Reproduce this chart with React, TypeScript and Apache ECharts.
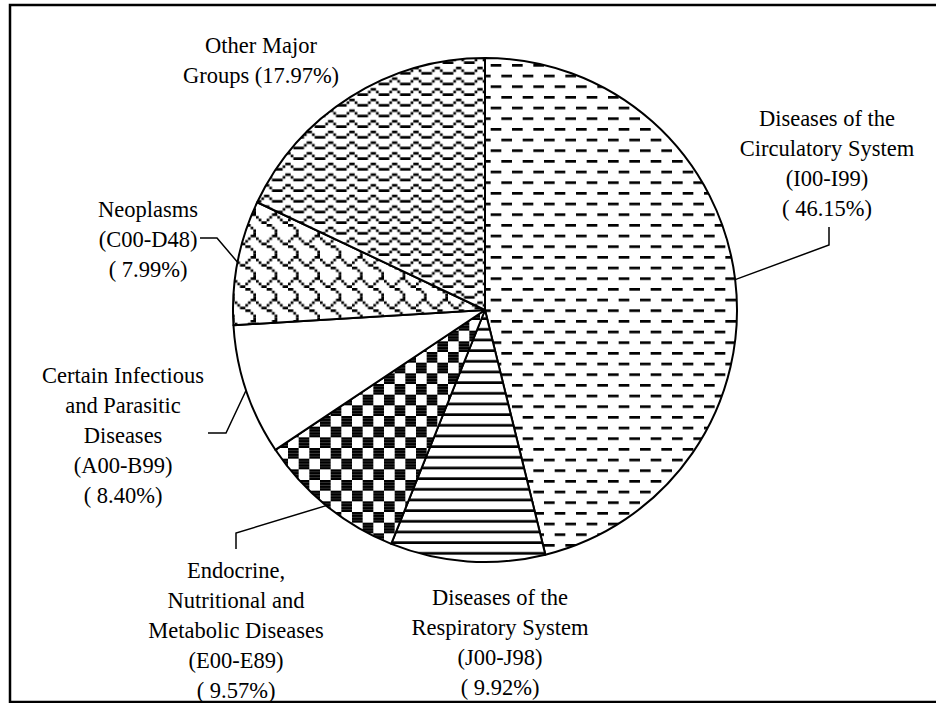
import React, { useEffect, useRef } from 'react';
import * as echarts from 'echarts';

// ---- data ----
const categories = [
  'Diseases of the Circulatory System',
  'Diseases of the Respiratory System',
  'Endocrine, Nutritional and Metabolic Diseases',
  'Certain Infectious and Parasitic Diseases',
  'Neoplasms',
  'Other Major Groups',
];
const shares = [46.15, 9.92, 9.57, 8.4, 7.99, 17.97];
// label text lines (percentage appended from shares)
const labelNameLines = [
  ['Diseases of the', 'Circulatory System', '(I00-I99)'],
  ['Diseases of the', 'Respiratory System', '(J00-J98)'],
  ['Endocrine,', 'Nutritional and', 'Metabolic Diseases', '(E00-E89)'],
  ['Certain Infectious', 'and Parasitic', 'Diseases', '(A00-B99)'],
  ['Neoplasms', '(C00-D48)'],
  ['Other Major', 'Groups'],
];
// 8x8 hatch bitmaps (Office style patterns)
const hatchDashedHorizontal = [0xf0, 0x00, 0x00, 0x00, 0x0f, 0x00, 0x00, 0x00];
const hatchLightHorizontal = [0x00, 0x00, 0x00, 0xff, 0x00, 0x00, 0x00, 0xff];
const hatchLargeChecker = [0x0f, 0x0f, 0x0f, 0x0f, 0xf0, 0xf0, 0xf0, 0xf0];
const hatchShingle = [0x03, 0x84, 0x48, 0x30, 0x0c, 0x02, 0x01, 0x01];
const hatchWave = [0x00, 0x18, 0x24, 0xc3, 0x00, 0x18, 0x24, 0xc3];

// ---- layout ----
const CX = 485;
const CY = 310;
const R = 252;
const FONT = 'Liberation Serif, Times New Roman, serif';

type LabelPos = { x: number; y: number; va: 'top' | 'middle' | 'bottom'; line?: number[][] };
const labelPos: LabelPos[] = [
  { x: 827, y: 223, va: 'bottom', line: [[829, 245], [829, 227]] },
  { x: 500, y: 582, va: 'top' },
  { x: 236, y: 555, va: 'top', line: [[236, 533], [236, 549]] },
  { x: 123, y: 435, va: 'middle', line: [[226, 433], [208, 433]] },
  { x: 148, y: 239, va: 'middle', line: [[217, 238], [200, 238]] },
  { x: 261, y: 60, va: 'middle' },
];

function hatch(rows: number[]) {
  const b = 8 / 3;
  const size = 8 * b;
  let rects = '';
  rows.forEach((r, y) => {
    let x = 0;
    while (x < 8) {
      if (r & (0x80 >> x)) {
        let e = x;
        while (e < 8 && r & (0x80 >> e)) e++;
        rects += `<rect x="${(x * b).toFixed(3)}" y="${(y * b).toFixed(3)}" width="${((e - x) * b).toFixed(3)}" height="${b.toFixed(3)}"/>`;
        x = e;
      } else x++;
    }
  });
  const svg = `<svg xmlns="http://www.w3.org/2000/svg" width="${size}" height="${size}" viewBox="0 0 ${size} ${size}"><rect width="${size}" height="${size}" fill="#fff"/><g fill="#000">${rects}</g></svg>`;
  return {
    image: 'data:image/svg+xml;charset=utf-8,' + encodeURIComponent(svg),
    repeat: 'repeat',
    imageWidth: size,
    imageHeight: size,
  };
}

export default function App() {
  const ref = useRef<HTMLDivElement>(null);
  useEffect(() => {
    if (!ref.current) return;
    const chart = echarts.init(ref.current, null, { renderer: 'svg' });
    const fills: any[] = [
      hatch(hatchDashedHorizontal),
      hatch(hatchLightHorizontal),
      hatch(hatchLargeChecker),
      '#ffffff',
      hatch(hatchShingle),
      hatch(hatchWave),
    ];
    const total = shares.reduce((a, b) => a + b, 0);
    const startPoint = (i: number) => {
      let cum = 0;
      for (let k = 0; k < i; k++) cum += shares[k];
      const a = ((cum + shares[i] / 2) / total) * Math.PI * 2;
      return [CX + R * Math.sin(a), CY - R * Math.cos(a)];
    };
    const labelText = (i: number) => {
      const lines = labelNameLines[i].slice();
      const pct = shares[i].toFixed(2) + '%';
      if (i === 5) lines[lines.length - 1] += ` (${pct})`;
      else lines.push(`( ${pct})`);
      return lines.join('\n');
    };
    chart.setOption({
      animation: false,
      backgroundColor: '#ffffff',
      graphic: [
        {
          type: 'rect',
          shape: { x: 10, y: 5, width: 940, height: 697 },
          style: { fill: 'none', stroke: '#000', lineWidth: 2.5 },
          silent: true,
          z: 100,
        },
      ],
      series: [
        {
          type: 'pie',
          center: [CX, CY],
          radius: R,
          startAngle: 90,
          clockwise: true,
          avoidLabelOverlap: false,
          emphasis: { disabled: true },
          itemStyle: { borderColor: '#000', borderWidth: 2 },
          label: {
            show: true,
            position: 'outside',
            fontFamily: FONT,
            fontSize: 22.5,
            lineHeight: 30,
            color: '#000',
            align: 'center',
            formatter: (p: any) => labelText(p.dataIndex),
          },
          labelLine: {
            show: true,
            length: 20,
            length2: 20,
            smooth: false,
            lineStyle: { color: '#000', width: 1.5 },
          },
          labelLayout: (params: any) => {
            const i = params.dataIndex;
            const p = labelPos[i];
            const res: any = { x: p.x, y: p.y, align: 'center', verticalAlign: p.va };
            if (p.line) {
              const s =
                params.labelLinePoints && params.labelLinePoints[0]
                  ? params.labelLinePoints[0]
                  : startPoint(i);
              res.labelLinePoints = [s, ...p.line];
            }
            return res;
          },
          data: categories.map((name, i) => ({
            name,
            value: shares[i],
            itemStyle: { color: fills[i] },
            labelLine: { show: !!labelPos[i].line },
          })),
        },
      ],
    });
    return () => chart.dispose();
  }, []);
  return (
    <div
      ref={ref}
      style={{ position: 'fixed', left: 0, top: 0, width: 936, height: 703, background: '#fff' }}
    />
  );
}
